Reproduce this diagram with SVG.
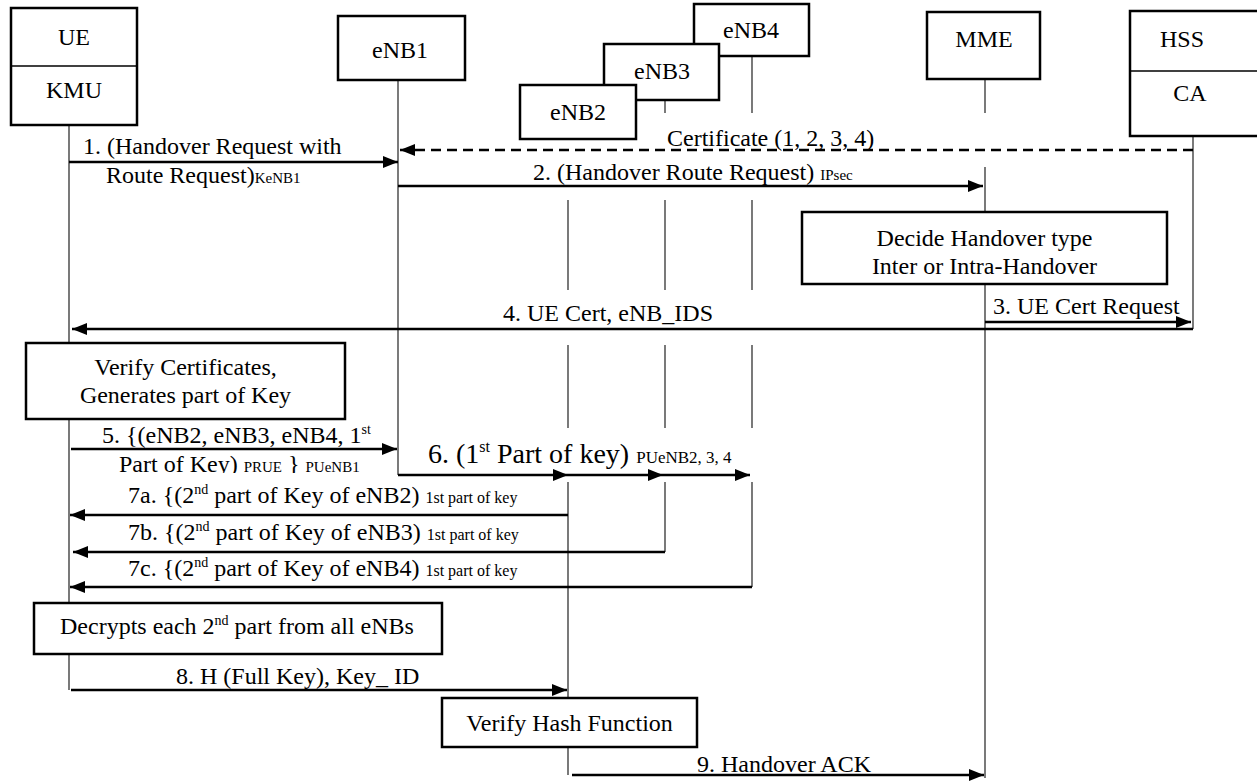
<svg xmlns="http://www.w3.org/2000/svg" width="1257" height="783" viewBox="0 0 1257 783">
  <style>
    .box{fill:#fff;stroke:#000;stroke-width:2.5}
    .div{stroke:#000;stroke-width:1.5}
    .life{stroke:#333;stroke-width:1.3;fill:none}
    .msg{stroke:#000;stroke-width:2.6;fill:none}
    .dash{stroke-dasharray:10 6}
    text{font-family:"Liberation Serif","Times New Roman",serif;fill:#000;font-size:24px}
    text.big{font-size:28px}
    .c{text-anchor:middle}
    .s{font-size:15px}
    .k{font-size:16px}
    .sup{font-size:14px}
  </style>
  <defs>
    <marker id="ah" markerWidth="15" markerHeight="12" refX="15" refY="6" orient="auto" markerUnits="userSpaceOnUse">
      <path d="M0,0 L15,6 L0,12 z" fill="#000"/>
    </marker>
    <clipPath id="cut5">
      <rect x="0" y="440" width="420" height="33"/>
    </clipPath>
  </defs>
  <rect width="1257" height="783" fill="#fff"/>

  <!-- lifelines, broken where message labels pass -->
  <g id="lifelines">
    <path class="life" d="M69,125V343 M69,419V603 M69,654V690"/>
    <path class="life" d="M398,80V475"/>
    <path class="life" d="M568,200V290 M568,345V428 M568,482V698 M568,747V775"/>
    <path class="life" d="M665,100V113 M665,200V290 M665,345V428 M665,482V552"/>
    <path class="life" d="M752,56V113 M752,200V290 M752,345V428 M752,482V587"/>
    <path class="life" d="M985,79V113 M985,167V212 M985,284V778"/>
    <path class="life" d="M1193,136V329"/>
  </g>

  <!-- participants -->
  <g id="ue">
    <rect class="box" x="11" y="8" width="126" height="117"/>
    <line class="div" x1="11" y1="66" x2="137" y2="66"/>
    <text class="c" x="74" y="45">UE</text>
    <text class="c" x="74" y="98">KMU</text>
  </g>
  <g id="enb1">
    <rect class="box" x="338" y="16" width="127" height="64"/>
    <text class="c" x="400" y="58">eNB1</text>
  </g>
  <g id="enb4">
    <rect class="box" x="694" y="4" width="115" height="52"/>
    <text class="c" x="751" y="38">eNB4</text>
  </g>
  <g id="enb3">
    <rect class="box" x="604" y="44" width="115" height="56"/>
    <text class="c" x="662" y="79">eNB3</text>
  </g>
  <g id="enb2">
    <rect class="box" x="520" y="85" width="116" height="54"/>
    <text class="c" x="578" y="120">eNB2</text>
  </g>
  <g id="mme">
    <rect class="box" x="927" y="12" width="113" height="67"/>
    <text class="c" x="984" y="47">MME</text>
  </g>
  <g id="hss">
    <rect class="box" x="1130" y="11" width="140" height="125"/>
    <line class="div" x1="1130" y1="71" x2="1257" y2="71"/>
    <text class="c" x="1182" y="47">HSS</text>
    <text class="c" x="1190" y="101">CA</text>
  </g>

  <!-- action boxes -->
  <g id="decide">
    <rect class="box" x="802" y="212" width="365" height="72"/>
    <text class="c" x="984.5" y="246">Decide Handover type</text>
    <text class="c" x="984.5" y="274">Inter or Intra-Handover</text>
  </g>
  <g id="verify-cert">
    <rect class="box" x="26" y="343" width="319" height="76"/>
    <text class="c" x="185.5" y="375">Verify Certificates,</text>
    <text class="c" x="185.5" y="403">Generates part of Key</text>
  </g>
  <g id="decrypt">
    <rect class="box" x="34" y="603" width="408" height="51"/>
    <text x="60" y="634">Decrypts each 2<tspan class="sup" dy="-9">nd</tspan><tspan dy="9"> part from all eNBs</tspan></text>
  </g>
  <g id="verify-hash">
    <rect class="box" x="442" y="698" width="255" height="49"/>
    <text class="c" x="569.5" y="731">Verify Hash Function</text>
  </g>

  <!-- messages -->
  <g id="connectors">
    <line class="msg" x1="69" y1="162" x2="398" y2="162" marker-end="url(#ah)"/>
    <line class="msg dash" x1="1193" y1="150" x2="400" y2="150" marker-end="url(#ah)"/>
    <line class="msg" x1="398" y1="186" x2="983" y2="186" marker-end="url(#ah)"/>
    <line class="msg" x1="985" y1="322" x2="1191" y2="322" marker-end="url(#ah)"/>
    <line class="msg" x1="1193" y1="329" x2="72" y2="329" marker-end="url(#ah)"/>
    <line class="msg" x1="71" y1="449" x2="397" y2="449" marker-end="url(#ah)"/>
    <path class="msg" d="M398,475H568" marker-end="url(#ah)"/>
    <path class="msg" d="M568,475H663" marker-end="url(#ah)"/>
    <path class="msg" d="M663,475H750" marker-end="url(#ah)"/>
    <line class="msg" x1="568" y1="515" x2="70" y2="515" marker-end="url(#ah)"/>
    <line class="msg" x1="665" y1="552" x2="73" y2="552" marker-end="url(#ah)"/>
    <line class="msg" x1="752" y1="587" x2="70" y2="587" marker-end="url(#ah)"/>
    <line class="msg" x1="71" y1="690" x2="567" y2="690" marker-end="url(#ah)"/>
    <line class="msg" x1="572" y1="775" x2="984" y2="775" marker-end="url(#ah)"/>
  </g>

  <!-- message labels -->
  <g id="labels">
    <text x="83" y="154">1. (Handover Request with</text>
    <text x="106" y="183">Route Request)<tspan class="s">KeNB1</tspan></text>
    <text x="667" y="146">Certificate (1, 2, 3, 4)</text>
    <text x="533" y="180">2. (Handover Route Request) <tspan class="s">IPsec</tspan></text>
    <text x="993" y="314">3. UE Cert Request</text>
    <text x="503" y="321">4. UE Cert, eNB_IDS</text>
    <text x="102" y="443">5. {(eNB2, eNB3, eNB4, 1<tspan class="sup" dy="-9">st</tspan></text>
    <text x="119" y="472" clip-path="url(#cut5)">Part of Key) <tspan class="s">PRUE</tspan> } <tspan class="s">PUeNB1</tspan></text>
    <text class="big" x="428" y="463">6. (1<tspan font-size="16" dy="-11">st</tspan><tspan dy="11"> Part of key) </tspan><tspan font-size="17">PUeNB2, 3, 4</tspan></text>
    <text x="128" y="503">7a. {(2<tspan class="sup" dy="-9">nd</tspan><tspan dy="9"> part of Key of eNB2) </tspan><tspan class="k">1st part of key</tspan></text>
    <text x="128" y="540">7b. {(2<tspan class="sup" dy="-9">nd</tspan><tspan dy="9"> part of Key of eNB3) </tspan><tspan class="k">1st part of key</tspan></text>
    <text x="128" y="576">7c. {(2<tspan class="sup" dy="-9">nd</tspan><tspan dy="9"> part of Key of eNB4) </tspan><tspan class="k">1st part of key</tspan></text>
    <text x="176" y="684">8. H (Full Key), Key_ ID</text>
    <text x="697" y="772">9. Handover ACK</text>
  </g>
</svg>
